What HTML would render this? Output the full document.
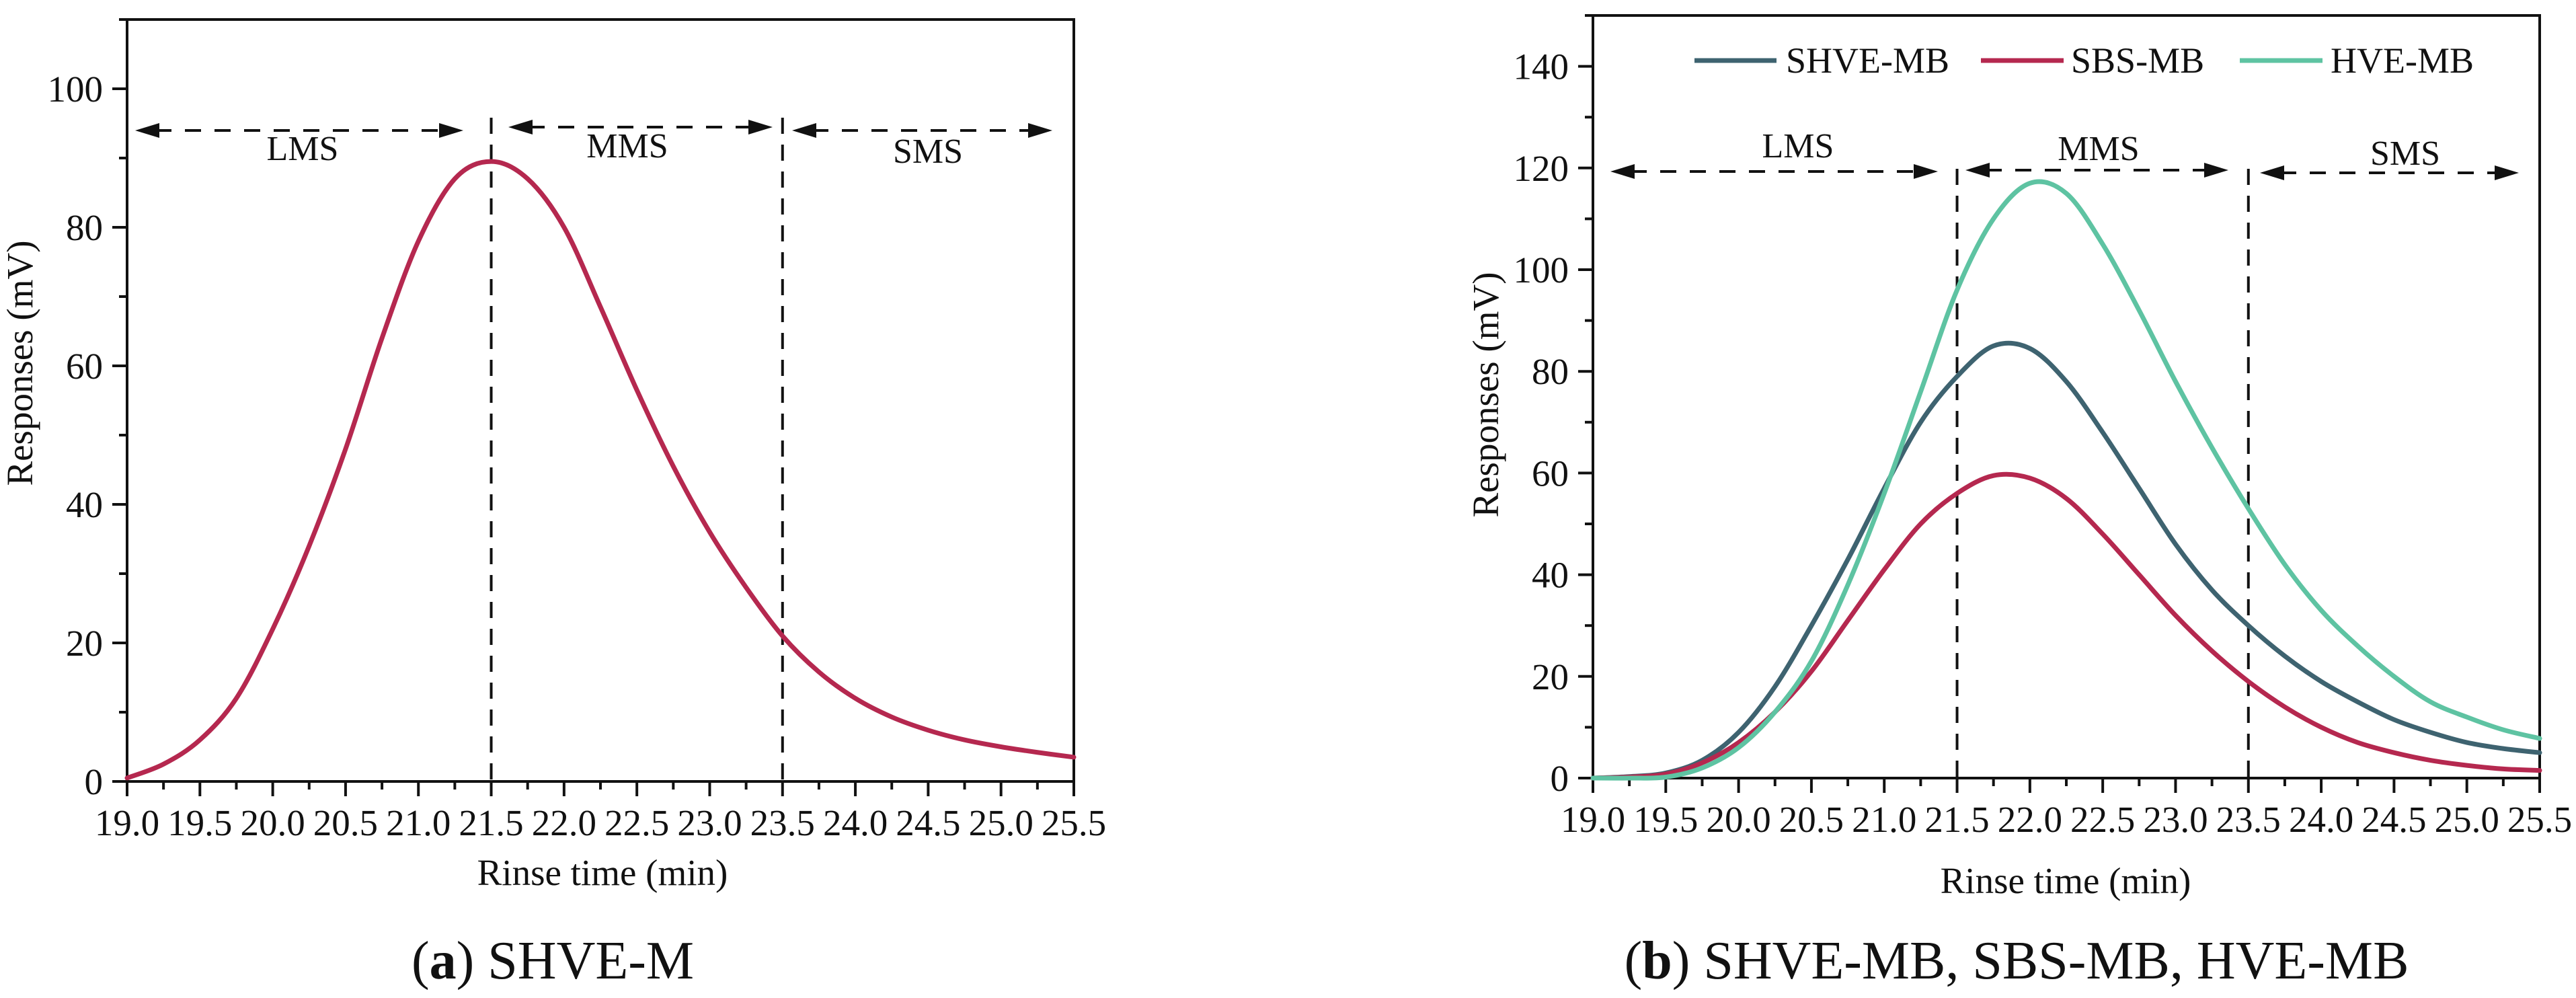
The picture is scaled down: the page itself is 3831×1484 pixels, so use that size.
<!DOCTYPE html>
<html><head><meta charset="utf-8"><style>
html,body{margin:0;padding:0;background:#fff}
svg{display:block}
text{font-family:"Liberation Serif",serif;fill:#111}
</style></head><body>
<svg id="svg" width="3831" height="1484" viewBox="0 0 3831 1484" xmlns="http://www.w3.org/2000/svg" font-family="Liberation Serif, serif"></svg>
<script>
const xTicks=["19.0","19.5","20.0","20.5","21.0","21.5","22.0","22.5","23.0","23.5","24.0","24.5","25.0","25.5"];
const xs=[19.0,19.25,19.5,19.75,20.0,20.25,20.5,20.75,21.0,21.25,21.5,21.75,22.0,22.25,22.5,22.75,23.0,23.25,23.5,23.75,24.0,24.25,24.5,24.75,25.0,25.25,25.5];
const shveM=[0.5,2.5,6,12,22,34,48,64,78,87,89.5,87,80,68.5,56.5,45.5,36,28,21,15.8,12,9.3,7.4,6,5,4.2,3.5];
const shveMB=[0,0.3,1,3.5,9,18,30,43,57,70,79,85,84.5,78,68,57,46,37,30,24,19,15,11.5,9,7,5.8,5];
const sbsMB=[0,0.2,0.8,3,7,13,21,31,41,50,56,59.5,59,55,48,40,32,25,19,14,10,7,5,3.5,2.5,1.8,1.5];
const hveMB=[0,0,0.2,2,6,13,23,38,56,76,96,110,117,115,105,92,78,65,53,42,33,26,20,15,12,9.5,7.8];
const yTicksA=[0,20,40,60,80,100];
const yTicksB=[0,20,40,60,80,100,120,140];

const NS="http://www.w3.org/2000/svg";
const svg=document.getElementById('svg');
function el(tag,attrs,parent,txt){const e=document.createElementNS(NS,tag);for(const k in attrs)e.setAttribute(k,attrs[k]);if(tag==='text')e.setAttribute('font-family','Liberation Serif, serif');if(txt!==undefined)e.textContent=txt;(parent||svg).appendChild(e);return e;}

function smoothPath(pts){let d=`M${pts[0][0]},${pts[0][1]}`;for(let i=0;i<pts.length-1;i++){const p0=pts[i-1]||pts[i],p1=pts[i],p2=pts[i+1],p3=pts[i+2]||p2;const c1=[p1[0]+(p2[0]-p0[0])/6,p1[1]+(p2[1]-p0[1])/6],c2=[p2[0]-(p3[0]-p1[0])/6,p2[1]-(p3[1]-p1[1])/6];d+=` C${c1[0]},${c1[1]} ${c2[0]},${c2[1]} ${p2[0]},${p2[1]}`;}return d;}

function chart(cfg){
  const g=el('g',{});
  
  
  const L=cfg.L,R=cfg.R,T=cfg.T,B=cfg.B;
  const X=v=>L+(v-19)/6.5*(R-L);
  const Y=v=>B-v/cfg.ymax*(B-T);
  const fr=el('rect',{x:L,y:T,width:R-L,height:B-T,fill:'none',stroke:'#111','stroke-width':4},g);
  
  
  for(let i=0;i<=26;i++){const v=19+i*0.25,x=X(v),major=i%2===0;
    el('line',{x1:x,y1:B,x2:x,y2:B+(major?22:12),stroke:'#111','stroke-width':4},g);}
  xTicks.forEach(t=>{const tx=el('text',{x:X(parseFloat(t)),y:B+80,'font-size':55,'text-anchor':'middle'},g,t);
    
    });
  for(let v=0;v<=cfg.ymax;v+=10){const y=Y(v),major=v%20===0;
    el('line',{x1:L,y1:y,x2:L-(major?22:12),y2:y,stroke:'#111','stroke-width':4},g);}
  cfg.yTicks.forEach(v=>{const tx=el('text',{x:L-36,y:Y(v)+19,'font-size':55,'text-anchor':'end'},g,String(v));
    
    });
  const xt=el('text',{x:cfg.xtX,y:cfg.xtY,'font-size':55,'text-anchor':'middle'},g,'Rinse time (min)');
  
  
  const yt=el('text',{x:0,y:0,'font-size':55,'text-anchor':'middle',transform:`translate(${cfg.ytX},${cfg.ytY}) rotate(-90)`},g,'Responses (mV)');
  
  
  [21.5,23.5].forEach(v=>{const ln=el('line',{x1:X(v),y1:cfg.vTop,x2:X(v),y2:B,stroke:'#111','stroke-width':4,'stroke-dasharray':'24 16'},g);
    
    });
  cfg.arrows.forEach(a=>{
    const ag=el('g',{},g);
    
    
    el('line',{x1:a.x1+30,y1:a.y,x2:a.x2-30,y2:a.y,stroke:'#111','stroke-width':4,'stroke-dasharray':'24 20'},ag);
    el('polygon',{points:`${a.x1},${a.y} ${a.x1+36},${a.y-11} ${a.x1+36},${a.y+11}`,fill:'#111'},ag);
    el('polygon',{points:`${a.x2},${a.y} ${a.x2-36},${a.y-11} ${a.x2-36},${a.y+11}`,fill:'#111'},ag);
    el('text',{x:a.tx,y:a.ty,'font-size':52,'text-anchor':'middle'},ag,a.label);
  });
  cfg.series.forEach(s=>{const pts=xs.map((x,i)=>[X(x),Y(s.data[i])]);
    const p=el('path',{d:smoothPath(pts),fill:'none',stroke:s.color,'stroke-width':7,'stroke-linejoin':'round','stroke-linecap':'round'},g);
    
    });
  const cap=el('text',{x:cfg.capX,y:cfg.capY,'font-size':80,'text-anchor':'middle'},g);
  
  
  el('tspan',{},cap,'(');el('tspan',{'font-weight':'bold'},cap,cfg.capLetter);el('tspan',{},cap,') '+cfg.capText);
  return {X,Y,g};
}

chart({name:'chart-a',L:189,R:1597,T:29,B:1162,ymax:110,yTicks:yTicksA,xtX:896,xtY:1316,ytX:48,ytY:540,vTop:175,
  arrows:[{x1:201,x2:689,y:194,label:'LMS',tx:450,ty:238},{x1:756,x2:1149,y:189,label:'MMS',tx:933,ty:234},{x1:1178,x2:1565,y:194,label:'SMS',tx:1380,ty:242}],
  series:[{key:'shve-m',data:shveM,color:'#b5284f'}],capX:822,capY:1455,capLetter:'a',capText:'SHVE-M'});

const c2=chart({name:'chart-b',L:2369,R:3777,T:23,B:1157,ymax:150,yTicks:yTicksB,xtX:3072,xtY:1328,ytX:2228,ytY:587,vTop:251,
  arrows:[{x1:2395,x2:2882,y:255,label:'LMS',tx:2674,ty:234},{x1:2923,x2:3314,y:253,label:'MMS',tx:3121,ty:238},{x1:3361,x2:3746,y:257,label:'SMS',tx:3577,ty:245}],
  series:[{key:'shve-mb',data:shveMB,color:'#3e6370'},{key:'sbs-mb',data:sbsMB,color:'#b5284f'},{key:'hve-mb',data:hveMB,color:'#5ec3a2'}],
  capX:2999,capY:1455,capLetter:'b',capText:'SHVE-MB, SBS-MB, HVE-MB'});

const legend=[{label:'SHVE-MB',color:'#3e6370',x1:2520,x2:2642,tx:2656},{label:'SBS-MB',color:'#b5284f',x1:2946,x2:3069,tx:3080},{label:'HVE-MB',color:'#5ec3a2',x1:3331,x2:3454,tx:3466}];
legend.forEach(l=>{const lg=el('g',{},c2.g);
  
  
  el('line',{x1:l.x1,y1:90,x2:l.x2,y2:90,stroke:l.color,'stroke-width':7},lg);
  el('text',{x:l.tx,y:108,'font-size':54},lg,l.label);});
</script>
</body></html>
